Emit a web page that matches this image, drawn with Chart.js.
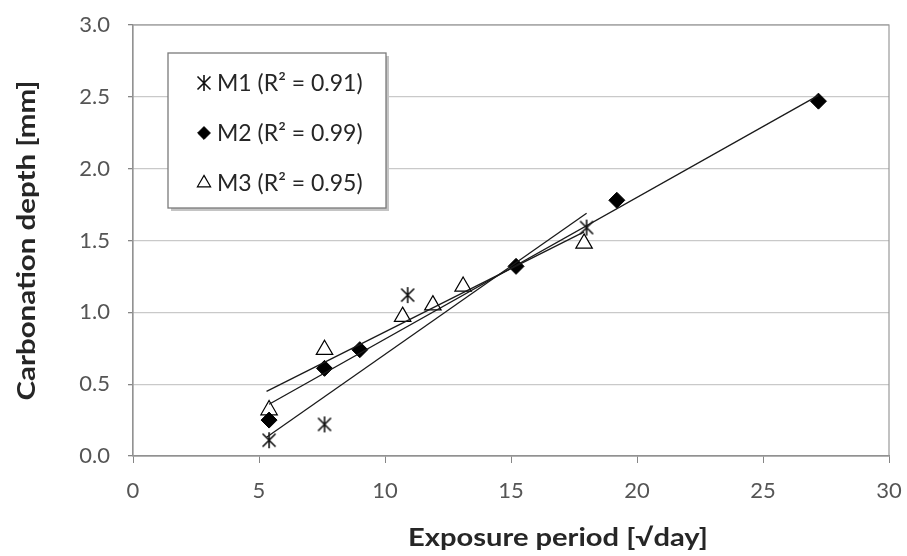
<!DOCTYPE html>
<html>
<head>
<meta charset="utf-8">
<script src="https://cdn.jsdelivr.net/npm/chart.js@4.4.0/dist/chart.umd.min.js"></script>
<style>
  html, body { margin: 0; padding: 0; background: #fff; }
  #wrap { width: 907px; height: 556px; }
</style>
</head>
<body>
<div id="wrap"><canvas id="carbonationChart"></canvas></div>
<script>
// exposure period [sqrt(day)] and carbonation depth [mm] per mix
const m1X = [5.4, 7.6, 10.9, 18.0];
const m1Y = [0.11, 0.22, 1.12, 1.59];
const m2X = [5.4, 7.6, 9.0, 15.2, 19.2, 27.2];
const m2Y = [0.25, 0.61, 0.74, 1.32, 1.78, 2.47];
const m3X = [5.4, 7.6, 10.7, 11.9, 13.1, 17.9];
const m3Y = [0.32, 0.74, 0.97, 1.05, 1.18, 1.48];

// linear trendline end points
const m1TrendX = [5.3, 18.0];
const m1TrendY = [0.13, 1.69];
const m2TrendX = [5.4, 27.2];
const m2TrendY = [0.36, 2.51];
const m3TrendX = [5.3, 17.9];
const m3TrendY = [0.45, 1.56];

const seriesLabels = ['M1 (R\u00B2 = 0.91)', 'M2 (R\u00B2 = 0.99)', 'M3 (R\u00B2 = 0.95)'];
const xTitle = 'Exposure period [\u221Aday]';
const yTitle = 'Carbonation depth [mm]';

const fontFamily = 'Lato, "Open Sans", sans-serif';
const tickColor = '#555555';
const axisColor = '#868686';
const textColor = '#262626';

const toPoints = (xs, ys) => xs.map((x, i) => ({ x: x, y: ys[i] }));

// excel style asterisk marker (x plus vertical stroke)
const asterisk = document.createElement('canvas');
asterisk.width = 18;
asterisk.height = 18;
(function () {
  const c = asterisk.getContext('2d');
  c.strokeStyle = '#111';
  c.lineWidth = 1.6;
  c.beginPath();
  c.moveTo(9, 1); c.lineTo(9, 17);
  c.moveTo(2.5, 2.5); c.lineTo(15.5, 15.5);
  c.moveTo(15.5, 2.5); c.lineTo(2.5, 15.5);
  c.stroke();
})();

const markerStyles = [
  { pointStyle: asterisk, radius: 9, fill: '#000', stroke: '#000', borderWidth: 1 },
  { pointStyle: 'rectRot', radius: 8, fill: '#000', stroke: '#000', borderWidth: 1 },
  { pointStyle: 'triangle', radius: 9.5, fill: '#fff', stroke: '#000', borderWidth: 1.2 }
];

const trendLine = (data) => ({
  data: data,
  showLine: true,
  borderColor: '#1a1a1a',
  borderWidth: 1.3,
  pointRadius: 0,
  fill: false
});

const markerSet = (label, data, m) => ({
  label: label,
  data: data,
  showLine: false,
  pointStyle: m.pointStyle,
  pointRadius: m.radius,
  pointBackgroundColor: m.fill,
  pointBorderColor: m.stroke,
  pointBorderWidth: m.borderWidth
});

// text squeezed or stretched along its run to a given length
function fitText(ctx, text, x, y, length, angle) {
  const w = ctx.measureText(text).width;
  ctx.save();
  ctx.translate(x, y);
  ctx.rotate(angle);
  ctx.scale(length / w, 1);
  ctx.fillText(text, 0, 0);
  ctx.restore();
}

// plot area frame, boxed legend and the axis titles
const extras = {
  id: 'extras',
  afterDraw(chart) {
    const ctx = chart.ctx;
    const a = chart.chartArea;
    ctx.save();
    ctx.strokeStyle = '#9a9a9a';
    ctx.lineWidth = 1.2;
    ctx.strokeRect(a.left, a.top, a.right - a.left, a.bottom - a.top);

    // legend
    const lx = 168, ly = 53, lw = 218, lh = 155;
    ctx.fillStyle = '#c4c4c4';
    ctx.fillRect(lx + 3, ly + 3, lw, lh);
    ctx.fillStyle = '#fff';
    ctx.fillRect(lx, ly, lw, lh);
    ctx.strokeStyle = '#7a7a7a';
    ctx.lineWidth = 1.3;
    ctx.strokeRect(lx, ly, lw, lh);

    ctx.font = '23px ' + fontFamily;
    ctx.textBaseline = 'middle';
    ctx.textAlign = 'left';
    seriesLabels.forEach((text, i) => {
      const cy = 83 + i * 50;
      const m = markerStyles[i];
      ctx.fillStyle = m.fill;
      ctx.strokeStyle = m.stroke;
      ctx.lineWidth = m.borderWidth;
      Chart.helpers.drawPoint(ctx, { pointStyle: m.pointStyle, radius: m.radius * 0.8, rotation: 0, borderWidth: m.borderWidth }, 204, cy);
      ctx.fillStyle = textColor;
      ctx.fillText(text, 217, cy + 1);
    });

    ctx.font = 'bold 24px ' + fontFamily;
    ctx.fillStyle = textColor;
    ctx.textAlign = 'center';
    fitText(ctx, xTitle, 558, 538, 300, 0);
    fitText(ctx, yTitle, 27, (a.top + a.bottom) / 2, 320, -Math.PI / 2);
    ctx.restore();
  }
};

const chartEl = document.getElementById('carbonationChart');
if (chartEl) {
  const carbonationChart = new Chart(chartEl, {
    type: 'scatter',
    data: {
      datasets: [
        trendLine(toPoints(m1TrendX, m1TrendY)),
        trendLine(toPoints(m2TrendX, m2TrendY)),
        trendLine(toPoints(m3TrendX, m3TrendY)),
        markerSet(seriesLabels[0], toPoints(m1X, m1Y), markerStyles[0]),
        markerSet(seriesLabels[1], toPoints(m2X, m2Y), markerStyles[1]),
        markerSet(seriesLabels[2], toPoints(m3X, m3Y), markerStyles[2])
      ]
    },
    options: {
      responsive: true,
      maintainAspectRatio: false,
      animation: false,
      layout: {
        padding: { top: 25, right: 18, bottom: 0, left: 0 }
      },
      plugins: {
        legend: { display: false },
        tooltip: { enabled: false }
      },
      scales: {
        x: {
          type: 'linear',
          min: 0,
          max: 30,
          afterFit: (scale) => {
            scale.height = 100;
            scale.paddingLeft = 0;
            scale.paddingRight = 0;
          },
          ticks: {
            stepSize: 5,
            color: tickColor,
            padding: 15,
            font: { family: fontFamily, size: 22 }
          },
          grid: {
            drawOnChartArea: false,
            color: axisColor,
            tickLength: 7
          },
          border: { color: axisColor, width: 1.2 }
        },
        y: {
          min: 0,
          max: 3,
          afterFit: (scale) => {
            scale.width = 133;
            scale.paddingTop = 0;
            scale.paddingBottom = 0;
          },
          ticks: {
            stepSize: 0.5,
            color: tickColor,
            padding: 18,
            font: { family: fontFamily, size: 22 },
            callback: (v) => v.toFixed(1)
          },
          grid: {
            color: '#c9c9c9',
            lineWidth: 1.3,
            tickColor: axisColor,
            tickLength: 5
          },
          border: { color: axisColor, width: 1.2 }
        }
      }
    },
    plugins: [extras]
  });
}
</script>
</body>
</html>
